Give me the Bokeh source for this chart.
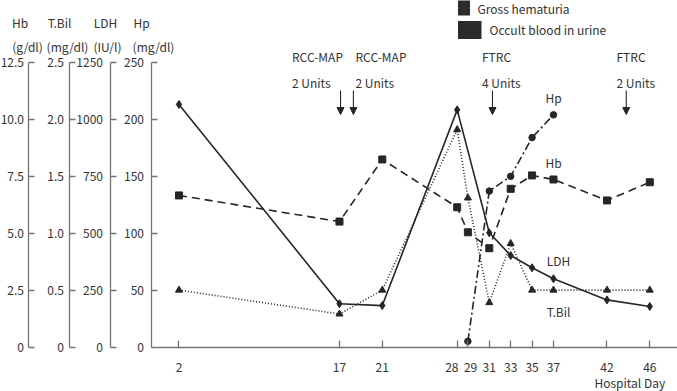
from bokeh.plotting import figure
from bokeh.models import Range1d, LinearAxis, FixedTicker, Label, Arrow, NormalHead
from bokeh.embed import file_html
from bokeh.resources import INLINE

# ---- data -------------------------------------------------------------
# hospital days on which blood was drawn
days = [2, 17, 21, 28, 29, 31, 33, 35, 37, 42, 46]
hb = [6.66, 5.51, 8.24, 6.14, 5.04, 4.34, 6.95, 7.54, 7.36, 6.44, 7.24]      # g/dl
tbil = [0.50, 0.29, 0.50, 1.91, 1.31, 0.39, 0.91, 0.50, 0.50, 0.50, 0.50]   # mg/dl
ldh_days = [2, 17, 21, 28, 31, 33, 35, 37, 42, 46]
ldh = [1066, 190, 182, 1042, 502, 402, 348, 300, 207, 178]                  # IU/l
hp_days = [29, 31, 33, 35, 37]
hp = [5, 137, 150, 184, 204]                                                # mg/dl

# transfusions: day, product, amount
tx_days = [17.1, 18.3, 31.3, 43.8]
tx_names = ["RCC-MAP", "RCC-MAP", "FTRC", "FTRC"]
tx_units = ["2 Units", "2 Units", "4 Units", "2 Units"]

# axis ticks and their labels
hb_ticks = [0, 2.5, 5, 7.5, 10, 12.5]
hb_labels = ["0", "2.5", "5.0", "7.5", "10.0", "12.5"]
tbil_ticks = [0, 0.5, 1, 1.5, 2, 2.5]
tbil_labels = ["0", "0.5", "1.0", "1.5", "2.0", "2.5"]
ldh_ticks = [0, 250, 500, 750, 1000, 1250]
ldh_labels = ["0", "250", "500", "750", "1000", "1250"]
hp_ticks = [0, 50, 100, 150, 200, 250]
hp_labels = ["0", "50", "100", "150", "200", "250"]
day_labels = ["2", "17", "21", "28\u00a0\u00a0\u00a0\u00a0", "\u00a0\u00a029",
              "31", "33", "35", "37", "42", "46"]

# ---- layout -----------------------------------------------------------
W, H = 677, 391
X0, X1 = -14.68, 48.59          # hospital days across the canvas
Y0, Y1 = -39.1, 304.5           # Hp scale (mg/dl) down the canvas

FONT = "Noto Sans CJK JP"
TXT = "#333333"
AX = "#747474"
INK = "#262626"


def xd(px):
    return X0 + px * (X1 - X0) / W


def yd(py):
    return Y1 - py * (Y1 - Y0) / H


p = figure(width=W, height=H, x_range=Range1d(X0, X1), y_range=Range1d(Y0, Y1),
           x_axis_type=None, y_axis_type=None, min_border=0,
           toolbar_location=None, output_backend="svg",
           outline_line_color=None, background_fill_color="white",
           border_fill_color="white")
p.grid.visible = False

k_hb = hp_ticks[-1] / hb_ticks[-1]
k_tb = hp_ticks[-1] / tbil_ticks[-1]
k_ld = hp_ticks[-1] / ldh_ticks[-1]
p.extra_y_ranges = {
    "hb": Range1d(Y0 / k_hb, Y1 / k_hb),
    "tbil": Range1d(Y0 / k_tb, Y1 / k_tb),
    "ldh": Range1d(Y0 / k_ld, Y1 / k_ld),
}


def vaxis(range_name, ticks, labels, px, standoff):
    ax = LinearAxis(y_range_name=range_name, fixed_location=xd(px),
                    bounds=(ticks[0], ticks[-1]),
                    ticker=FixedTicker(ticks=ticks),
                    major_label_overrides={t: s for t, s in zip(ticks, labels)})
    ax.axis_line_color = AX
    ax.axis_line_width = 1.3
    ax.major_tick_line_color = AX
    ax.major_tick_line_width = 1.3
    ax.major_tick_in = 6
    ax.major_tick_out = 0
    ax.minor_tick_in = 0
    ax.minor_tick_out = 0
    ax.major_label_standoff = standoff
    ax.major_label_text_font = FONT
    ax.major_label_text_font_size = "12px"
    ax.major_label_text_color = TXT
    p.add_layout(ax, "left")


vaxis("hb", hb_ticks, hb_labels, 27.5, 4)
vaxis("tbil", tbil_ticks, tbil_labels, 68.5, 5)
vaxis("ldh", ldh_ticks, ldh_labels, 109.5, 7)
vaxis("default", hp_ticks, hp_labels, 150.5, 7)

xax = LinearAxis(fixed_location=0, bounds=(xd(157), X1),
                 ticker=FixedTicker(ticks=days),
                 major_label_overrides={d: s for d, s in zip(days, day_labels)})
xax.axis_line_color = AX
xax.axis_line_width = 1.3
xax.major_tick_line_color = AX
xax.major_tick_line_width = 1.3
xax.major_tick_in = 7
xax.major_tick_out = 0
xax.minor_tick_in = 0
xax.minor_tick_out = 0
xax.major_label_standoff = 11
xax.major_label_text_font = FONT
xax.major_label_text_font_size = "12px"
xax.major_label_text_color = TXT
p.add_layout(xax, "below")

# ---- series -----------------------------------------------------------
p.line(days, hb, y_range_name="hb", line_color=INK, line_width=1.6, line_dash="8 5")
p.scatter(days, hb, y_range_name="hb", marker="square", size=7,
          fill_color=INK, line_color=INK)

p.line(days, tbil, y_range_name="tbil", line_color=INK, line_width=1.6, line_dash="1 2")
p.scatter(days, tbil, y_range_name="tbil", marker="triangle", size=7,
          fill_color=INK, line_color=INK)

p.line(ldh_days, ldh, y_range_name="ldh", line_color=INK, line_width=1.6)
p.scatter(ldh_days, ldh, y_range_name="ldh", marker="diamond", size=8,
          fill_color=INK, line_color=INK)

p.line(hp_days, hp, line_color=INK, line_width=1.6, line_dash="8 3 2 3")
p.scatter(hp_days, hp, marker="circle", size=6.5, fill_color=INK, line_color=INK)

# ---- transfusion arrows and notes ------------------------------------
for d in tx_days:
    p.add_layout(Arrow(x_start=d, y_start=yd(90), x_end=d, y_end=yd(114),
                       line_color=INK, line_width=1.1,
                       end=NormalHead(size=7, fill_color=INK, line_color=INK)))

note_px = [291.5, 355, 481.5, 616]
for px, name, units in zip(note_px, tx_names, tx_units):
    for py, txt in ((56, name), (81.5, units)):
        p.add_layout(Label(x=xd(px), y=yd(py), text=txt, text_align="left",
                           text_baseline="middle", text_font=FONT,
                           text_font_size="12px", text_color=TXT))

# ---- series names -----------------------------------------------------
for px, py, txt in ((553, 97, "Hp"), (553, 162, "Hb"), (558, 260, "LDH"), (558, 311, "T.Bil")):
    p.add_layout(Label(x=xd(px), y=yd(py), text=txt, text_align="center",
                       text_baseline="middle", text_font=FONT,
                       text_font_size="12px", text_color=TXT))

# ---- axis headers -----------------------------------------------------
for px, txt in ((19.5, "Hb"), (59, "T.Bil"), (105, "LDH"), (141, "Hp")):
    p.add_layout(Label(x=xd(px), y=yd(22), text=txt, text_align="center",
                       text_baseline="middle", text_font=FONT,
                       text_font_size="12px", text_color=TXT))
for px, txt in ((27, "(g/dl)"), (67, "(mg/dl)"), (107, "(IU/l)"), (153, "(mg/dl)")):
    p.add_layout(Label(x=xd(px), y=yd(45.5), text=txt, text_align="center",
                       text_baseline="middle", text_font=FONT,
                       text_font_size="12px", text_color=TXT))

# ---- urine findings key -----------------------------------------------
p.quad(left=[xd(457.5), xd(457.5)], right=[xd(469.5), xd(481)],
       top=[yd(-4), yd(20.5)], bottom=[yd(15), yd(38.5)],
       fill_color="#2b2b2b", line_color=None)
p.add_layout(Label(x=xd(477), y=yd(8), text="Gross hematuria", text_align="left",
                   text_baseline="middle", text_font=FONT,
                   text_font_size="12px", text_color=TXT))
p.add_layout(Label(x=xd(489), y=yd(28.5), text="Occult blood in urine", text_align="left",
                   text_baseline="middle", text_font=FONT,
                   text_font_size="12px", text_color=TXT))

p.add_layout(Label(x=xd(594), y=yd(382), text="Hospital Day", text_align="left",
                   text_baseline="middle", text_font=FONT,
                   text_font_size="12px", text_color=TXT))

open("out.html", "w").write(file_html(p, INLINE))
